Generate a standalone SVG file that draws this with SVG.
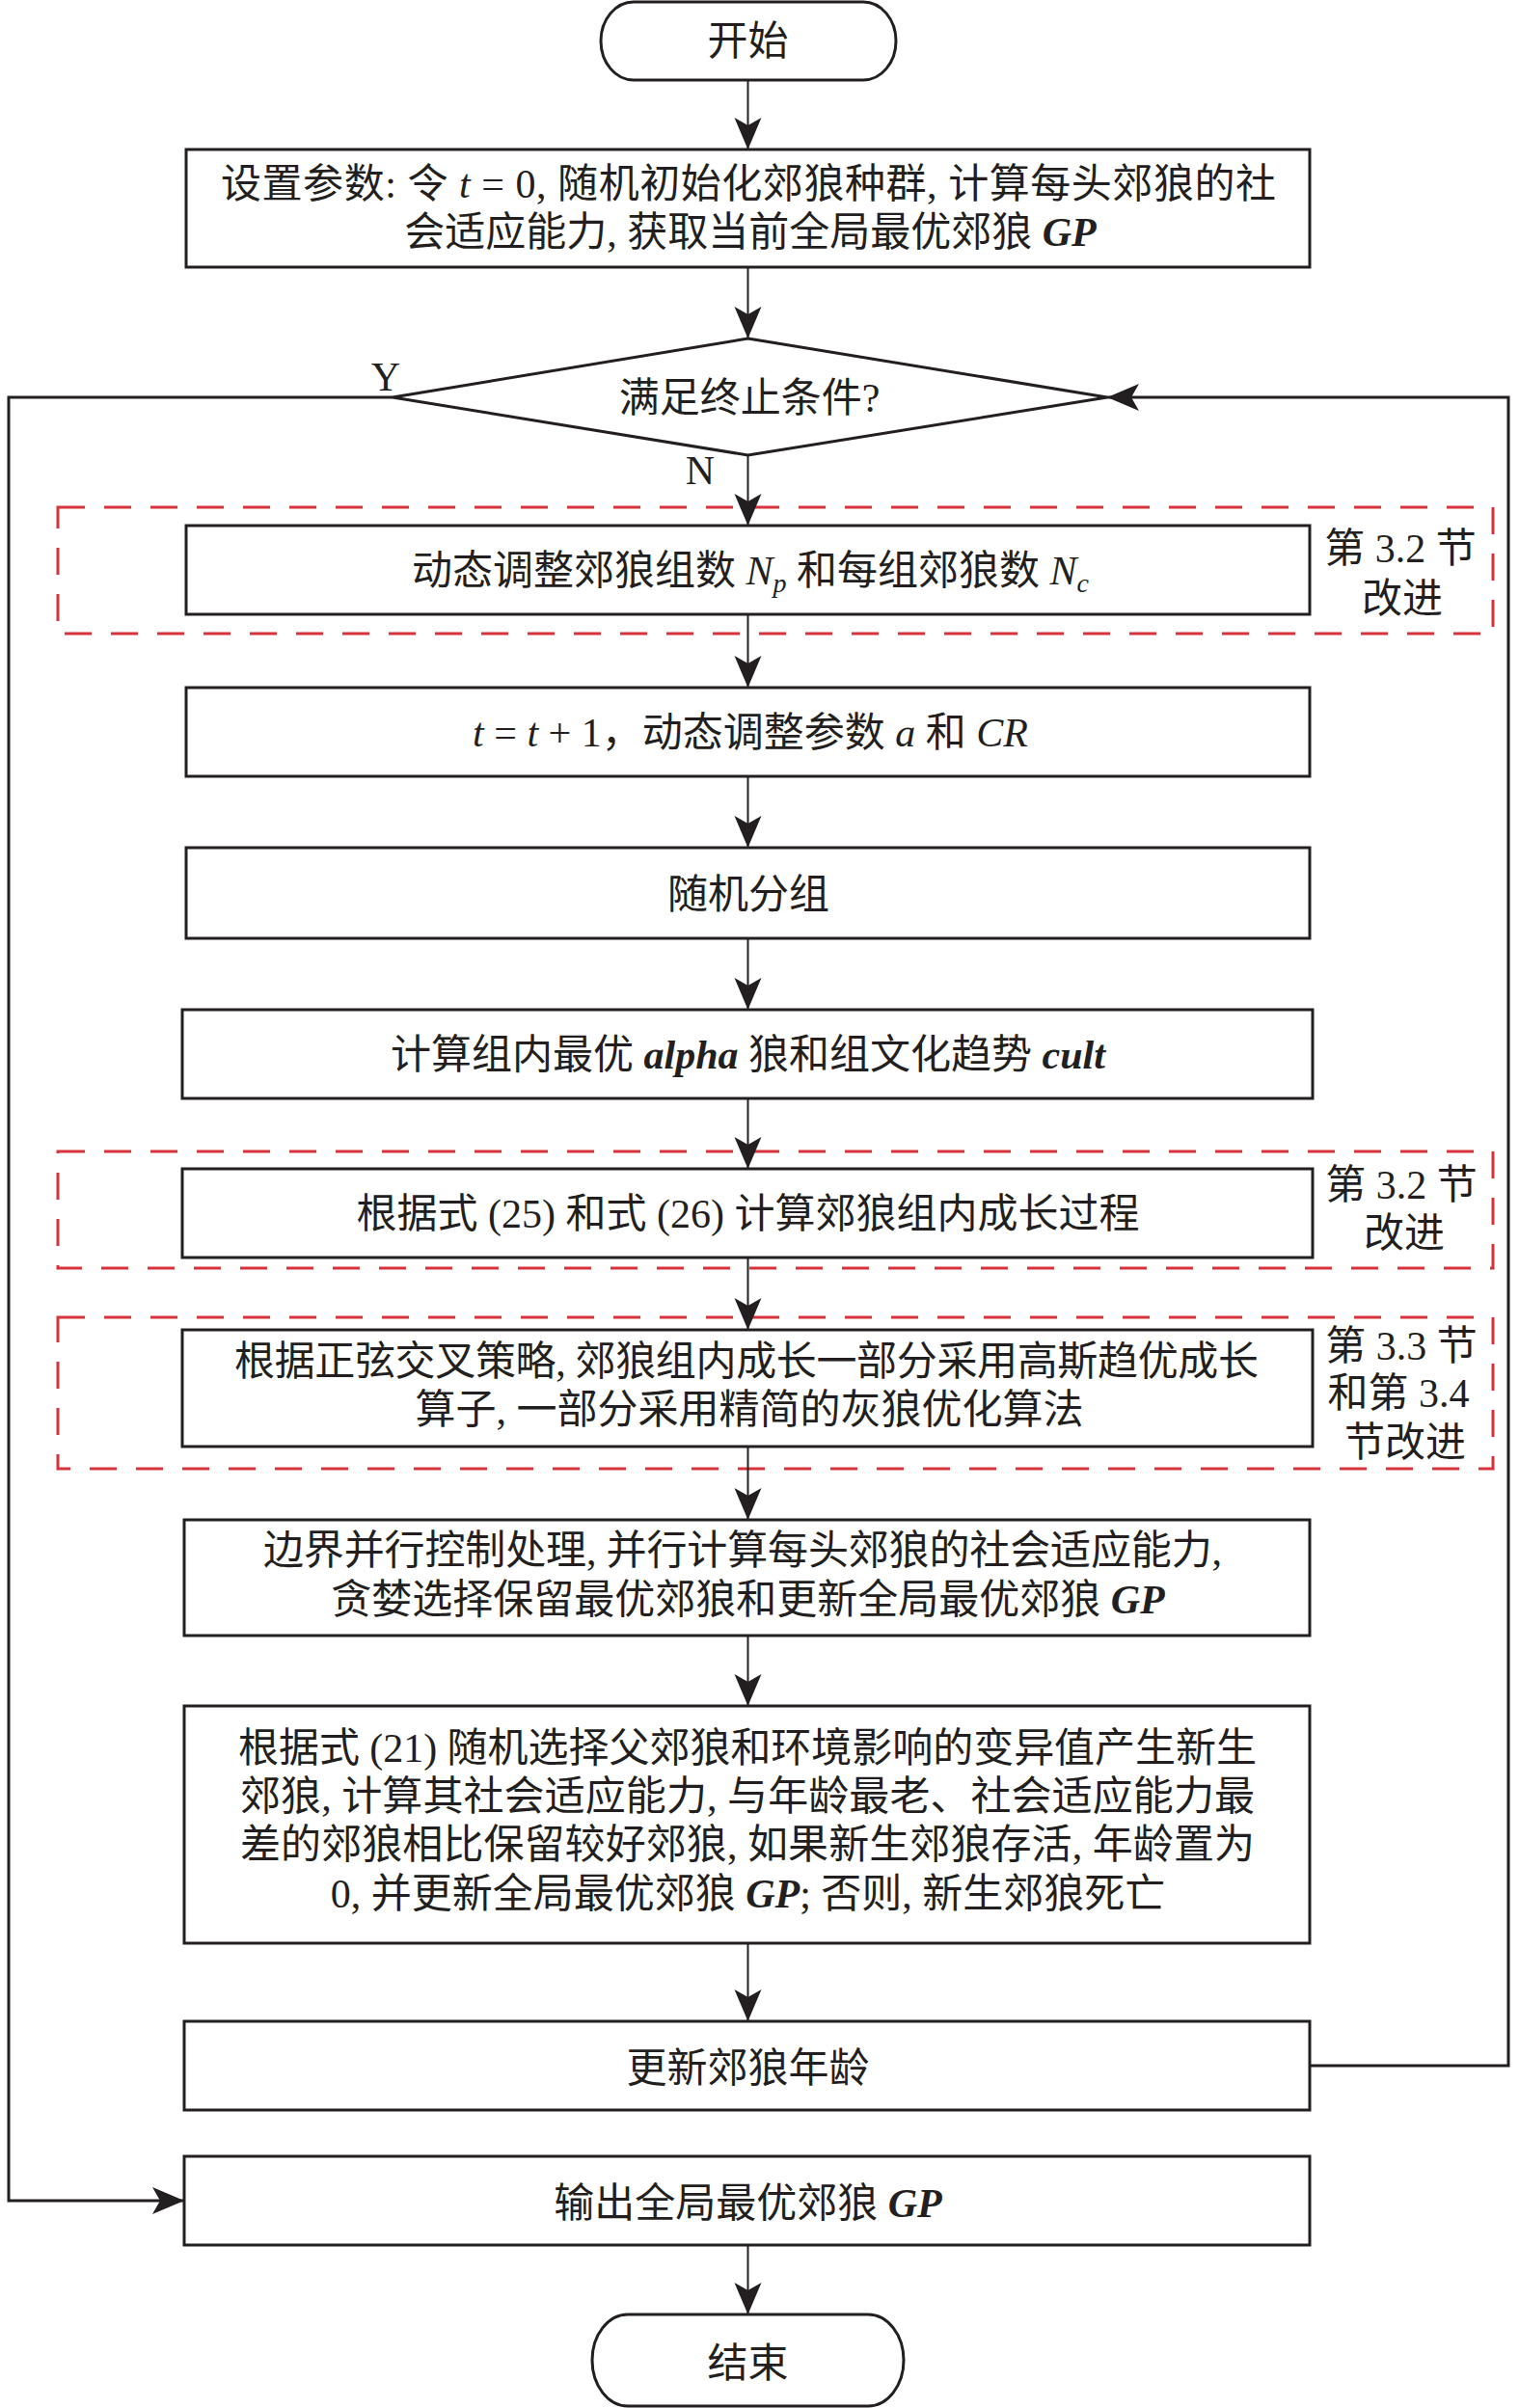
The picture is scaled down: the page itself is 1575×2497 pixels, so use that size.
<svg xmlns="http://www.w3.org/2000/svg" width="1575" height="2497" viewBox="0 0 1575 2497">
<style>
.box{fill:#fff;stroke:#231f20;stroke-width:3}
.red{fill:none;stroke:#d7333a;stroke-width:3;stroke-dasharray:28 20}
.edge{fill:none;stroke:#231f20;stroke-width:2}
.loop{fill:none;stroke:#231f20;stroke-width:3}
.t{font-family:'Liberation Serif','Noto Sans CJK SC',serif;font-size:42px;fill:#231f20}
.m{font-style:italic}
.b{font-style:italic;font-weight:bold}
</style>
<defs>
<marker id="ah" markerUnits="userSpaceOnUse" viewBox="-34 -15 36 30" refX="0" refY="0" markerWidth="36" markerHeight="30" orient="auto">
<path d="M0,0 L-33,-14 L-25,0 L-33,14 Z" fill="#231f20"/>
</marker>
</defs>
<rect width="1575" height="2497" fill="#fff"/>

<g id="regions">
<rect class="red" x="60" y="526" width="1488" height="131"/>
<rect class="red" x="60" y="1194" width="1488" height="121"/>
<rect class="red" x="60" y="1366" width="1488" height="157"/>
</g>

<g id="connectors">
<line class="edge" x1="775.5" y1="83" x2="775.5" y2="155" marker-end="url(#ah)"/>
<line class="edge" x1="775.5" y1="277" x2="775.5" y2="351" marker-end="url(#ah)"/>
<line class="edge" x1="775.5" y1="472" x2="775.5" y2="545" marker-end="url(#ah)"/>
<line class="edge" x1="775.5" y1="637" x2="775.5" y2="713" marker-end="url(#ah)"/>
<line class="edge" x1="775.5" y1="805" x2="775.5" y2="879" marker-end="url(#ah)"/>
<line class="edge" x1="775.5" y1="973" x2="775.5" y2="1047" marker-end="url(#ah)"/>
<line class="edge" x1="775.5" y1="1139" x2="775.5" y2="1212" marker-end="url(#ah)"/>
<line class="edge" x1="775.5" y1="1304" x2="775.5" y2="1379" marker-end="url(#ah)"/>
<line class="edge" x1="775.5" y1="1500" x2="775.5" y2="1576" marker-end="url(#ah)"/>
<line class="edge" x1="775.5" y1="1696" x2="775.5" y2="1769" marker-end="url(#ah)"/>
<line class="edge" x1="775.5" y1="2015" x2="775.5" y2="2096" marker-end="url(#ah)"/>
<line class="edge" x1="775.5" y1="2328" x2="775.5" y2="2400" marker-end="url(#ah)"/>
<polyline class="loop" points="407,412 9,412 9,2282 191,2282" marker-end="url(#ah)"/>
<polyline class="loop" points="1358,2142 1564,2142 1564,412 1148,412" marker-end="url(#ah)"/>
<text class="t" x="400" y="405" text-anchor="middle">Y</text>
<text class="t" x="726" y="502" text-anchor="middle">N</text>
</g>

<g id="start">
<path class="box" d="M657,2 H895 A34,40.5 0 0 1 895,83 H657 A34,40.5 0 0 1 657,2 Z"/>
<text class="t" x="775.5" y="57" text-anchor="middle">开始</text>
</g>

<g id="init">
<rect class="box" x="193" y="155" width="1165" height="122"/>
<text class="t" x="229" y="205" textLength="1094" lengthAdjust="spacing">设置参数: 令 <tspan class="m">t</tspan> = 0, 随机初始化郊狼种群, 计算每头郊狼的社</text>
<text class="t" x="778" y="255" text-anchor="middle">会适应能力, 获取当前全局最优郊狼 <tspan class="b">GP</tspan></text>
</g>

<g id="cond">
<polygon class="box" points="775.5,351 1148,412 775.5,472 407,412"/>
<text class="t" x="777" y="427" text-anchor="middle">满足终止条件?</text>
</g>

<g id="groups">
<rect class="box" x="193" y="545" width="1165" height="92"/>
<text class="t" x="778" y="606" text-anchor="middle">动态调整郊狼组数 <tspan class="m">N</tspan><tspan class="m" font-size="28" dy="8">p</tspan><tspan dy="-8"> 和每组郊狼数 </tspan><tspan class="m">N</tspan><tspan class="m" font-size="28" dy="8">c</tspan></text>
<text class="t" x="1452" y="583" text-anchor="middle">第 3.2 节</text>
<text class="t" x="1454" y="635" text-anchor="middle">改进</text>
</g>

<g id="params">
<rect class="box" x="193" y="713" width="1165" height="92"/>
<text class="t" x="778" y="774" text-anchor="middle"><tspan class="m">t</tspan> = <tspan class="m">t</tspan> + 1，动态调整参数 <tspan class="m">a</tspan> 和 <tspan class="m">CR</tspan></text>
</g>

<g id="split">
<rect class="box" x="193" y="879" width="1165" height="94"/>
<text class="t" x="776" y="942" text-anchor="middle">随机分组</text>
</g>

<g id="alpha">
<rect class="box" x="189" y="1047" width="1172" height="92"/>
<text class="t" x="775.5" y="1108" text-anchor="middle">计算组内最优 <tspan class="b">alpha</tspan> 狼和组文化趋势 <tspan class="b">cult</tspan></text>
</g>

<g id="growth">
<rect class="box" x="189" y="1212" width="1172" height="92"/>
<text class="t" x="775.5" y="1273" text-anchor="middle">根据式 (25) 和式 (26) 计算郊狼组内成长过程</text>
<text class="t" x="1453" y="1243" text-anchor="middle">第 3.2 节</text>
<text class="t" x="1456" y="1293" text-anchor="middle">改进</text>
</g>

<g id="sine">
<rect class="box" x="189" y="1379" width="1172" height="121"/>
<text class="t" x="243" y="1426" textLength="1062" lengthAdjust="spacing">根据正弦交叉策略, 郊狼组内成长一部分采用高斯趋优成长</text>
<text class="t" x="777" y="1476" text-anchor="middle">算子, 一部分采用精简的灰狼优化算法</text>
<text class="t" x="1453" y="1410" text-anchor="middle">第 3.3 节</text>
<text class="t" x="1450" y="1459" text-anchor="middle">和第 3.4</text>
<text class="t" x="1457" y="1510" text-anchor="middle">节改进</text>
</g>

<g id="bound">
<rect class="box" x="191" y="1576" width="1167" height="120"/>
<text class="t" x="273" y="1622" textLength="994" lengthAdjust="spacing">边界并行控制处理, 并行计算每头郊狼的社会适应能力,</text>
<text class="t" x="775.5" y="1673" text-anchor="middle">贪婪选择保留最优郊狼和更新全局最优郊狼 <tspan class="b">GP</tspan></text>
</g>

<g id="newborn">
<rect class="box" x="191" y="1769" width="1167" height="246"/>
<text class="t" x="247" y="1827" textLength="1056" lengthAdjust="spacing">根据式 (21) 随机选择父郊狼和环境影响的变异值产生新生</text>
<text class="t" x="249" y="1877" textLength="1052" lengthAdjust="spacing">郊狼, 计算其社会适应能力, 与年龄最老、社会适应能力最</text>
<text class="t" x="249" y="1927" textLength="1052" lengthAdjust="spacing">差的郊狼相比保留较好郊狼, 如果新生郊狼存活, 年龄置为</text>
<text class="t" x="775.5" y="1978" text-anchor="middle">0, 并更新全局最优郊狼 <tspan class="b">GP</tspan>; 否则, 新生郊狼死亡</text>
</g>

<g id="age">
<rect class="box" x="191" y="2096" width="1167" height="92"/>
<text class="t" x="775.5" y="2159" text-anchor="middle">更新郊狼年龄</text>
</g>

<g id="output">
<rect class="box" x="191" y="2236" width="1167" height="92"/>
<text class="t" x="775.5" y="2299" text-anchor="middle">输出全局最优郊狼 <tspan class="b">GP</tspan></text>
</g>

<g id="end">
<path class="box" d="M651,2400 H900 A37,47.5 0 0 1 900,2495 H651 A37,47.5 0 0 1 651,2400 Z"/>
<text class="t" x="775.5" y="2465" text-anchor="middle">结束</text>
</g>
</svg>
